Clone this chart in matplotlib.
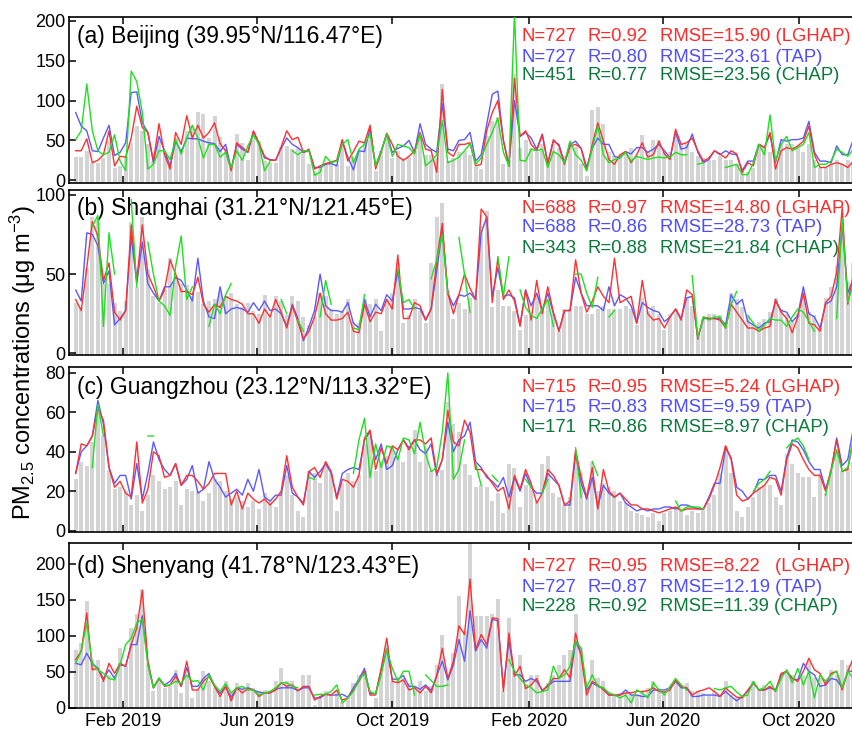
import numpy as np
import pandas as pd
import matplotlib
matplotlib.use("Agg")
import matplotlib.pyplot as plt
import matplotlib.dates as mdates

plt.rcParams['font.family'] = ['Liberation Sans', 'DejaVu Sans']
plt.rcParams['mathtext.fontset'] = 'custom'
plt.rcParams['mathtext.rm'] = 'Liberation Sans'
plt.rcParams['mathtext.it'] = 'Liberation Sans:italic'

N = np.nan
dates = pd.date_range('2018-12-20', periods=142, freq='5D')

# ---------------- (a) Beijing ----------------
obs_a = [29,29,37,21,22,28,49,15,18,29, 47,68,62,45,24,49,36,18,53,39,
         62,68,86,83,53,81,54,41,16,58, 47,26,55,49,24,22,21,42,43,39,
         41,37,20,12,16,20,22,20,45,18, 28,37,47,51,12,37,57,28,37,28,
         29,37,57,32,32,28,121,24,28,35, 37,32,16,14,55,75,80,20,25,133,
         40,50,40,35,45,25,45,40,30,47, 42,20,5,88,92,70,35,30,32,35,
         40,30,57,35,50,50,35,35,55,45, 45,35,30,28,25,25,30,25,25,20,
         15,10,15,45,40,35,20,45,45,45, 40,35,45,25,15,15,20,25,20,25, 20,25]
lghap_a = [37,37,52,22,25,32,62,18,30,29, 53,93,66,60,24,71,32,14,60,45,
           81,53,69,53,60,72,46,37,12,47, 41,35,62,47,30,25,25,42,62,51,
           54,35,39,14,18,21,23,25,51,24, 36,49,47,69,14,35,59,45,30,25,
           30,37,60,39,37,10,114,35,30,45, 45,47,18,20,62,85,100,50,18,128,
           55,62,45,37,57,20,51,43,20,43, 45,40,12,45,72,49,26,20,32,36,
           22,32,47,29,32,49,33,26,64,45, 47,53,37,24,28,37,33,28,37,33,
           10,22,18,45,41,60,14,37,41,39, 43,49,68,32,16,16,20,22,20,16, 24,28]
tap_a = [85,68,62,37,36,53,69,31,35,47, 110,111,72,60,22,55,37,18,49,36,
         53,52,52,49,47,46,36,45,14,45, 39,35,61,45,28,26,25,40,53,45,
         41,35,37,16,16,20,21,18,49,29, 13,37,36,65,18,37,58,35,40,43,
         50,35,71,45,39,35,96,39,37,50, 51,60,24,32,70,108,112,50,18,100,
         55,60,53,39,58,22,49,45,22,45, 49,40,16,40,53,45,45,30,28,36,
         33,41,41,35,39,45,37,28,60,39, 41,58,35,22,26,37,32,37,33,32,
         12,24,24,45,41,58,22,51,49,51, 51,53,74,35,24,24,22,43,32,32, 51,45]
chap_a = [51,62,121,62,37,32,35,57,24,12, 137,124,85,14,20,37,37,26,51,33,
          53,69,53,28,45,45,29,35,16,37, 25,43,57,45,12,24,N,N,N,37,
          32,37,37,6,10,30,22,24,45,51, 22,39,45,58,18,36,58,30,45,43,
          41,33,58,18,24,32,75,22,25,29, 37,46,20,28,45,60,78,35,18,210,
          25,24,39,37,39,16,36,32,22,49, 32,25,12,40,68,32,22,26,28,35,
          24,30,28,26,28,29,28,29,35,32, 32,N,20,22,N,N,N,16,18,20,
          7,7,22,45,32,82,24,45,55,37, 41,45,60,16,20,20,24,39,35,30, 39,35]

# ---------------- (b) Shanghai ----------------
obs_b = [32,29,54,86,84,44,44,32,27,33, 83,42,86,53,36,32,40,60,48,44,
         43,36,39,31,33,34,39,36,38,31, 29,32,27,25,37,24,36,33,24,36,
         33,23,18,23,38,36,28,25,26,34, 20,19,34,31,34,14,34,38,57,19,
         24,34,27,19,57,86,95,40,22,32, 28,35,35,80,90,29,40,30,30,27,
         15,24,24,36,30,32,25,14,28,28, 30,30,25,25,28,30,28,28,28,30,
         28,18,35,27,30,25,15,25,28,23, 35,30,12,22,25,25,24,20,38,34,
         29,23,18,20,22,26,35,28,25,20, 25,36,26,24,16,35,42,55,75,45, 57,50]
lghap_b = [34,27,54,83,74,46,57,26,21,27, 81,46,81,50,42,33,40,59,50,39,
           39,37,48,31,26,31,29,36,34,33, 31,25,25,19,28,23,34,26,16,30,
           20,9,14,23,38,25,21,21,22,26, 14,13,31,20,26,25,34,28,62,22,
           22,32,30,21,28,59,82,38,25,37, 50,41,34,91,86,32,60,34,40,33,
           17,40,21,46,25,42,26,14,27,27, 59,38,26,33,42,36,32,60,32,34,
           36,19,46,25,21,22,16,23,28,21, 40,37,9,23,22,22,21,16,31,26,
           21,16,16,14,16,17,34,26,22,13, 23,38,19,18,14,32,36,51,92,31, 50,55]
tap_b = [40,33,76,75,68,44,52,18,22,27, 74,44,70,44,38,33,42,42,48,46,
         40,33,60,33,23,22,42,25,28,29, 28,26,32,27,33,27,28,25,17,31,
         22,8,17,27,50,30,27,27,26,32, 19,16,34,23,31,27,37,33,52,28,
         28,29,28,21,28,52,78,38,30,37, 36,38,34,76,86,36,54,36,37,35,
         18,40,30,38,27,38,25,14,27,27, 48,38,30,30,30,27,42,30,37,35,
         30,19,32,29,27,26,20,23,28,22, 35,36,10,22,22,22,22,18,37,31,
         34,20,18,16,19,20,33,27,26,20, 24,42,25,23,16,31,33,42,80,38, 47,50]
chap_b = [N,N,N,80,87,17,76,50,N,N, 97,42,N,70,50,33,30,24,55,74,
          34,42,N,N,17,31,25,37,44,N, N,N,N,N,N,N,N,34,25,N,
          21,14,N,N,23,46,31,N,N,N, 16,15,37,N,N,N,N,N,53,32,
          34,28,N,N,47,59,75,37,N,73, 50,26,N,N,N,N,61,36,61,N,
          40,29,24,22,28,34,17,N,N,N, 50,50,38,29,48,N,23,27,N,N,
          N,N,N,N,N,N,N,N,N,N, N,49,10,23,21,23,23,16,31,39,
          N,24,19,14,18,22,21,21,17,23, 28,26,20,14,N,N,N,22,85,32, 44,50]

# ---------------- (c) Guangzhou ----------------
obs_c = [26,35,33,45,60,48,31,21,22,20, 13,18,10,18,28,25,21,22,25,13,
         21,20,20,15,19,26,25,20,16,17, 15,12,15,11,19,15,12,19,28,18,
         10,7,30,29,24,34,29,10,24,29, 25,28,44,48,30,35,38,43,38,35,
         43,51,35,42,30,28,31,65,54,50, 34,28,22,23,22,15,19,9,34,32,
         12,23,22,15,34,38,19,17,13,17, 38,29,17,35,20,24,22,20,15,14,
         10,9,8,7,9,5,9,10,11,10, 8,10,9,11,14,18,29,43,29,10,
         7,12,17,22,23,23,17,13,39,34, 29,27,27,17,29,19,30,40,30,32, 35,38]
lghap_c = [29,44,43,48,62,56,32,22,25,19, 17,45,14,21,40,38,27,28,34,23,
           28,28,25,21,24,29,29,29,13,20, 11,19,16,14,16,13,16,20,38,22,
           17,13,30,32,27,35,30,16,26,25, 22,28,47,51,31,42,34,43,41,46,
           41,46,46,44,47,29,36,61,45,43, 56,50,31,31,28,24,20,22,11,28,
           21,31,24,14,19,31,28,23,13,15, 41,27,17,32,11,31,20,17,19,16,
           13,13,11,11,10,9,10,11,12,10, 11,11,11,11,16,23,32,43,36,18,
           15,16,19,21,23,27,26,18,36,44, 42,36,31,28,28,20,31,46,30,31, 46,42]
tap_c = [29,40,43,48,66,54,32,24,28,28, 16,34,16,29,45,36,31,28,34,23,
         26,33,19,21,35,26,22,17,19,21, 18,26,20,31,17,15,18,18,33,19,
         17,14,30,27,30,34,29,17,29,31, 32,31,46,50,36,44,31,33,41,46,
         42,46,41,39,44,28,36,55,40,46, 48,55,35,32,27,25,22,27,17,27,
         20,29,22,19,19,29,26,23,13,13, 39,24,16,27,12,23,19,17,19,14,
         12,10,11,10,11,11,12,12,11,13, 13,12,11,11,17,24,24,42,37,22,
         20,16,19,26,26,28,28,20,37,46, 45,41,35,31,31,21,30,47,33,36, 52,50]
chap_c = [N,N,N,32,64,48,N,N,N,N, N,N,N,48,48,N,N,N,N,N,
          N,N,N,N,N,N,N,N,N,N, N,N,N,N,N,N,N,N,N,N,
          N,N,27,26,N,N,N,N,N,N, 29,46,57,27,44,32,43,42,36,47,
          46,39,55,39,30,32,50,80,26,31, 46,N,34,23,N,28,25,N,N,N,
          N,26,22,N,19,26,N,N,N,N, 42,17,N,35,28,N,N,N,N,N,
          N,N,N,N,N,N,N,N,15,10, 12,12,12,11,N,N,N,N,N,N,
          N,N,20,24,26,30,N,N,42,45, 47,43,36,N,N,18,30,41,30,32, 46,45]

# ---------------- (d) Shenyang ----------------
obs_d = [81,90,149,67,67,37,46,46,83,58, 111,130,165,62,23,39,28,30,53,21,
         44,14,25,51,37,28,16,37,21,35, 25,35,28,23,25,23,37,55,37,37,
         25,46,46,4,14,23,18,23,9,14, 35,46,51,2,14,48,88,37,37,41,
         35,30,37,23,30,60,102,46,76,156, 107,235,128,128,128,130,151,23,125,53,
         74,30,46,46,23,35,46,60,74,81, 130,83,28,67,41,37,21,18,21,21,
         18,18,23,28,37,28,23,25,37,32, 35,23,23,21,18,23,18,37,18,14,
         16,18,37,28,32,30,28,46,51,46, 37,46,65,41,41,37,53,46,67,60, 65,60]
lghap_d = [67,79,132,53,55,37,62,48,62,58, 88,111,163,65,28,41,30,32,44,30,
           65,25,25,37,44,30,16,30,10,28, 21,27,25,16,21,21,25,35,30,32,
           24,30,30,11,16,19,18,25,11,14, 25,37,51,18,18,55,97,37,35,39,
           25,28,21,30,21,45,83,41,65,114, 102,179,81,102,88,125,124,23,104,44,
           58,27,32,41,23,32,41,41,53,42, 104,72,18,37,32,25,18,18,18,21,
           21,23,23,24,28,23,22,25,39,30, 28,18,23,25,28,23,16,28,21,15,
           14,25,35,25,25,30,23,48,51,41, 37,51,69,53,48,32,48,51,25,51, 69,70]
tap_d = [62,60,76,62,55,41,53,41,60,58, 88,88,128,62,28,41,32,37,48,30,
         56,30,30,41,48,30,20,30,15,28, 26,28,25,22,21,21,26,28,28,28,
         24,28,28,14,14,19,18,18,19,15, 28,40,55,20,20,52,82,40,40,45,
         30,30,26,32,24,45,65,39,60,95, 65,135,79,95,83,123,121,28,93,46,
         46,37,41,37,25,30,37,37,37,37, 93,74,25,35,30,28,18,18,18,25,
         18,18,16,16,25,25,25,28,37,28, 28,16,16,18,18,18,16,23,16,10,
         16,23,35,25,25,28,25,46,51,41, 39,62,51,46,30,32,41,39,28,51, 51,52]
chap_d = [62,79,118,62,53,48,41,39,60,88, 97,118,123,60,28,42,31,32,37,34,
          46,37,38,25,46,32,23,34,21,28, 30,25,25,18,21,23,28,35,35,30,
          28,N,N,18,19,19,23,32,7,14, 23,39,48,23,19,46,81,55,37,51,
          51,18,N,46,38,30,30,32,N,N, N,N,N,N,N,N,N,N,67,51,
          41,32,28,21,23,25,58,41,46,58, 93,83,28,46,30,28,21,18,14,18,
          7,25,21,14,35,25,18,30,41,32, 25,N,N,N,N,27,25,28,30,22,
          16,18,37,25,28,37,23,41,53,35, 55,32,51,14,46,37,46,51,28,51, 41,42]

titles = ['(a) Beijing (39.95°N/116.47°E)', '(b) Shanghai (31.21°N/121.45°E)',
          '(c) Guangzhou (23.12°N/113.32°E)', '(d) Shenyang (41.78°N/123.43°E)']
stat_n = [['727', '727', '451'], ['688', '688', '343'], ['715', '715', '171'], ['727', '727', '228']]
stat_r = [['0.92', '0.80', '0.77'], ['0.97', '0.86', '0.88'], ['0.95', '0.83', '0.86'], ['0.95', '0.87', '0.92']]
stat_rmse = [['15.90', '23.61', '23.56'], ['14.80', '28.73', '21.84'],
             ['5.24', '9.59', '8.97'], ['8.22  ', '12.19', '11.39']]
models = ['LGHAP', 'TAP', 'CHAP']
ylims = [(-3.5, 205), (-1, 103), (-0.7, 83), (0, 229)]
yticks = [[0, 50, 100, 150, 200], [0, 50, 100], [0, 20, 40, 60, 80], [0, 50, 100, 150, 200]]
text_y = [[0.88, 0.759, 0.645], [0.885, 0.77, 0.648], [0.873, 0.752, 0.636], [0.855, 0.733, 0.618]]

obs_all = [obs_a, obs_b, obs_c, obs_d]
lghap_all = [lghap_a, lghap_b, lghap_c, lghap_d]
tap_all = [tap_a, tap_b, tap_c, tap_d]
chap_all = [chap_a, chap_b, chap_c, chap_d]

line_colors = ['#FF3030', '#5A5AFF', '#1EE01E']
text_colors = ['#FF2A2A', '#4D4DFF', '#0A7A3A']

fig = plt.figure(figsize=(8.53, 7.33), dpi=100)
W, H = 853.0, 733.0
tops = [17, 190, 367, 543]
bots = [183, 355, 532, 708]
left_px = 69
xmin, xmax = pd.Timestamp('2018-12-14'), pd.Timestamp('2020-12-04')
width_frac = 801 / W

for k in range(4):
    ax = fig.add_axes([left_px / W, 1 - bots[k] / H, width_frac, (bots[k] - tops[k]) / H])
    lo = ylims[k][0]
    ax.bar(dates, np.array(obs_all[k]) - lo, bottom=lo, width=3.6, color='#D4D4D4', zorder=1)
    ax.plot(dates, tap_all[k], color=line_colors[1], lw=1.0, zorder=2)
    ax.plot(dates, lghap_all[k], color=line_colors[0], lw=1.0, zorder=3)
    ax.plot(dates, chap_all[k], color=line_colors[2], lw=1.0, zorder=4)
    ax.set_xlim(xmin, xmax)
    ax.set_ylim(*ylims[k])
    ax.set_yticks(yticks[k])
    ax.xaxis.set_major_locator(mdates.MonthLocator(bymonth=[2, 6, 10]))
    ax.xaxis.set_major_formatter(mdates.DateFormatter('%b %Y'))
    ax.tick_params(axis='both', direction='in', length=5, width=1.1, labelsize=13)
    ax.tick_params(axis='x', top=True, bottom=True)
    ax.tick_params(axis='y', left=True, right=False, pad=2.5)
    for sp in ax.spines.values():
        sp.set_linewidth(1.2)
    ax.spines['right'].set_visible(False)
    if k < 3:
        ax.tick_params(axis='x', labelbottom=False)
    ax.text(0.01, text_y[k][0], titles[k], transform=ax.transAxes, fontsize=16.5,
            va='center', ha='left', color='black')
    for j in range(3):
        y = text_y[k][j]
        c = text_colors[j]
        ax.text(0.565, y, 'N=' + stat_n[k][j], transform=ax.transAxes, fontsize=13.3,
                va='center', ha='left', color=c)
        ax.text(0.6477, y, 'R=' + stat_r[k][j], transform=ax.transAxes, fontsize=13.3,
                va='center', ha='left', color=c)
        ax.text(0.7373, y, 'RMSE=' + stat_rmse[k][j] + ' (' + models[j] + ')',
                transform=ax.transAxes, fontsize=13.3, va='center', ha='left', color=c)

fig.text(0.027, 0.505, 'PM$_{2.5}$ concentrations (μg m$^{-3}$)', rotation=90,
         ha='center', va='center', fontsize=17)

fig.savefig('out.png', dpi=100)
